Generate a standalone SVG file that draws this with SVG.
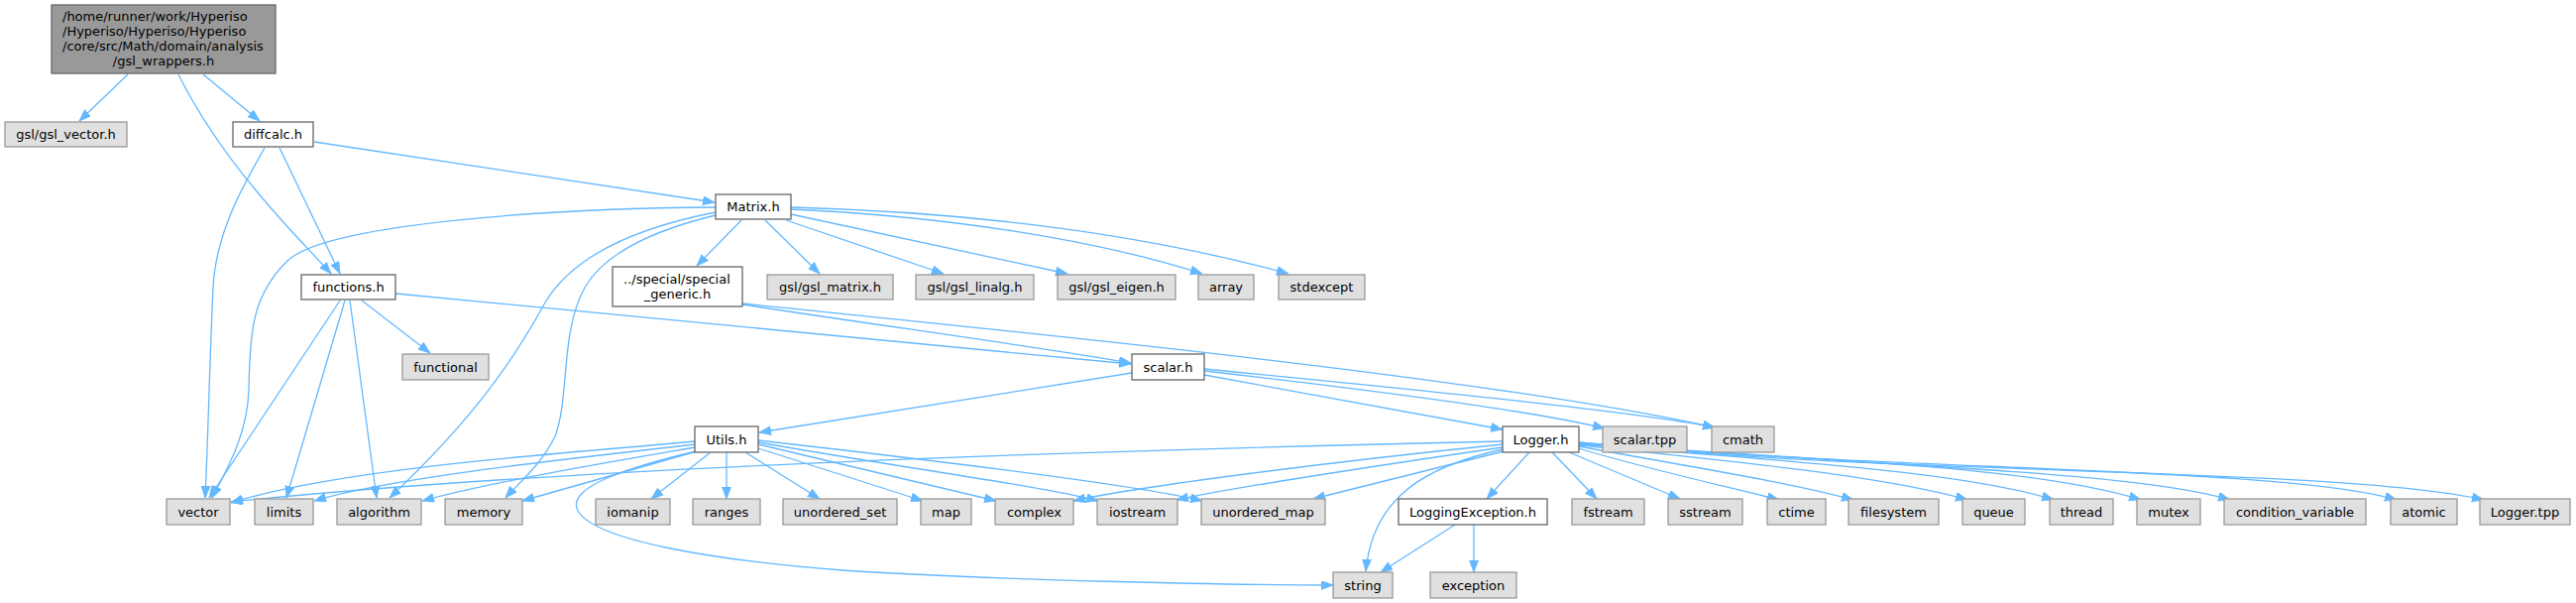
<svg xmlns="http://www.w3.org/2000/svg" width="2599" height="608" viewBox="0 0 2599 608">
<style>
.n{fill:#ffffff;stroke:#666666;stroke-width:1.3}
.g{fill:#e0e0e0;stroke:#999999;stroke-width:1.3}
.r{fill:#999999;stroke:#666666;stroke-width:1.3}
text{font-family:"DejaVu Sans","Liberation Sans",sans-serif;font-size:13px;fill:#000000;text-anchor:middle}
text.l{text-anchor:start}
.e path{fill:none;stroke:#63b8ff;stroke-width:1.3;marker-end:url(#a)}
</style>
<defs>
<marker id="a" markerUnits="userSpaceOnUse" markerWidth="13" markerHeight="10" refX="12" refY="4.5" orient="auto">
<path d="M0,0 L12,4.5 L0,9 z" fill="#63b8ff" stroke="#63b8ff" stroke-width="0.8"/>
</marker>
</defs>
<rect width="2599" height="608" fill="#ffffff"/>
<g id="edges" class="e">
<path d="M129,75 L80,122"/>
<path d="M205,75 L262,122"/>
<path d="M180,75 C205,125 235,165 265,200 C290,230 315,255 334,276"/>
<path d="M282,149 L343,276"/>
<path d="M267,149 C250,180 218,230 215,290 C212,350 210,440 207,502"/>
<path d="M317,143 L721,204"/>
<path d="M722,209 C560,210 330,225 290,263 C255,297 252,333 251,393 C250,440 225,480 214,502"/>
<path d="M722,214 C650,228 580,255 550,305 C520,360 480,420 393,502"/>
<path d="M722,217 C660,232 610,255 590,290 C565,335 575,400 560,440 C545,470 525,485 510,502"/>
<path d="M748,222 L703,268"/>
<path d="M772,222 L827,276"/>
<path d="M793,222 L952,276"/>
<path d="M798,216 L1077,276"/>
<path d="M798,211 C950,218 1100,240 1213,276"/>
<path d="M798,209 C980,214 1150,235 1300,276"/>
<path d="M365,303 L434,356"/>
<path d="M348,303 L289,502"/>
<path d="M353,303 L380,502"/>
<path d="M343,303 L211,502"/>
<path d="M399,296 L1141,367"/>
<path d="M749,307 C900,330 1050,350 1141,366"/>
<path d="M749,306 C1000,332 1500,380 1730,431"/>
<path d="M1142,376 L766,436"/>
<path d="M1215,378 L1516,433"/>
<path d="M1215,374 C1400,395 1550,415 1619,432"/>
<path d="M1215,372 C1450,395 1650,415 1730,431"/>
<path d="M701,445 C600,455 350,470 233,507"/>
<path d="M701,448 C600,460 400,480 317,505"/>
<path d="M701,451 C620,465 500,485 426,505"/>
<path d="M703,455 C650,470 580,490 527,505"/>
<path d="M717,456 L657,503"/>
<path d="M733,456 L733,503"/>
<path d="M752,456 L827,503"/>
<path d="M765,452 L931,505"/>
<path d="M765,448 L1005,505"/>
<path d="M765,446 C900,470 1050,490 1108,505"/>
<path d="M765,444 C950,465 1150,490 1213,505"/>
<path d="M702,455 C640,470 570,490 583,515 C600,545 720,565 850,575 C1000,585 1250,590 1345,590"/>
<path d="M1516,445 C1200,452 600,468 233,506"/>
<path d="M1516,448 C1350,465 1150,490 1083,505"/>
<path d="M1516,451 C1400,468 1250,490 1187,504"/>
<path d="M1517,455 L1325,503"/>
<path d="M1516,453 C1440,470 1385,500 1378,576"/>
<path d="M1543,456 L1500,503"/>
<path d="M1468,529 L1393,577"/>
<path d="M1487,529 L1487,577"/>
<path d="M1566,456 L1611,503"/>
<path d="M1583,456 L1695,503"/>
<path d="M1593,452 C1650,470 1740,490 1795,504"/>
<path d="M1593,450 C1700,470 1800,485 1870,504"/>
<path d="M1593,449 C1750,465 1900,480 1985,504"/>
<path d="M1593,448 C1800,465 1980,475 2072,504"/>
<path d="M1593,447 C1850,465 2050,470 2160,504"/>
<path d="M1593,447 C1900,470 2150,475 2250,504"/>
<path d="M1593,446 C1900,475 2300,470 2418,504"/>
<path d="M1593,446 C1900,480 2350,470 2506,504"/>
</g>
<g id="node_root"><rect class="r" x="52" y="5" width="226" height="69"/>
<text class="l" x="63" y="21">/home/runner/work/Hyperiso</text>
<text class="l" x="63" y="36">/Hyperiso/Hyperiso/Hyperiso</text>
<text class="l" x="63" y="51">/core/src/Math/domain/analysis</text>
<text x="165" y="66">/gsl_wrappers.h</text></g>
<g id="node_gsl_vector"><rect class="g" x="5" y="123" width="123" height="25"/><text x="66.5" y="140">gsl/gsl_vector.h</text></g>
<g id="node_diffcalc"><rect class="n" x="235" y="123" width="81" height="25"/><text x="275.5" y="140">diffcalc.h</text></g>
<g id="node_matrix"><rect class="n" x="722" y="196" width="76" height="25"/><text x="760" y="213">Matrix.h</text></g>
<g id="node_functions"><rect class="n" x="304" y="277" width="95" height="25"/><text x="351.5" y="294">functions.h</text></g>
<g id="node_special_generic"><rect class="n" x="618" y="269" width="131" height="40"/>
<text class="l" x="629" y="286">../special/special</text><text x="683.5" y="301">_generic.h</text></g>
<g id="node_gsl_matrix"><rect class="g" x="774" y="277" width="127" height="25"/><text x="837.5" y="294">gsl/gsl_matrix.h</text></g>
<g id="node_gsl_linalg"><rect class="g" x="924" y="277" width="119" height="25"/><text x="983.5" y="294">gsl/gsl_linalg.h</text></g>
<g id="node_gsl_eigen"><rect class="g" x="1067" y="277" width="119" height="25"/><text x="1126.5" y="294">gsl/gsl_eigen.h</text></g>
<g id="node_array"><rect class="g" x="1209" y="277" width="56" height="25"/><text x="1237" y="294">array</text></g>
<g id="node_stdexcept"><rect class="g" x="1290" y="277" width="87" height="25"/><text x="1333.5" y="294">stdexcept</text></g>
<g id="node_functional"><rect class="g" x="406" y="357" width="87" height="26"/><text x="449.5" y="375">functional</text></g>
<g id="node_scalar"><rect class="n" x="1142" y="357" width="73" height="26"/><text x="1178.5" y="375">scalar.h</text></g>
<g id="node_utils"><rect class="n" x="701" y="430" width="64" height="26"/><text x="733" y="448">Utils.h</text></g>
<g id="node_logger"><rect class="n" x="1516" y="430" width="77" height="26"/><text x="1554.5" y="448">Logger.h</text></g>
<g id="node_scalar_tpp"><rect class="g" x="1617" y="430" width="85" height="26"/><text x="1659.5" y="448">scalar.tpp</text></g>
<g id="node_cmath"><rect class="g" x="1727" y="430" width="63" height="26"/><text x="1758.5" y="448">cmath</text></g>
<g id="node_vector"><rect class="g" x="168" y="503" width="64" height="26"/><text x="200" y="521">vector</text></g>
<g id="node_limits"><rect class="g" x="257" y="503" width="59" height="26"/><text x="286.5" y="521">limits</text></g>
<g id="node_algorithm"><rect class="g" x="340" y="503" width="85" height="26"/><text x="382.5" y="521">algorithm</text></g>
<g id="node_memory"><rect class="g" x="449" y="503" width="78" height="26"/><text x="488" y="521">memory</text></g>
<g id="node_iomanip"><rect class="g" x="601" y="503" width="75" height="26"/><text x="638.5" y="521">iomanip</text></g>
<g id="node_ranges"><rect class="g" x="699" y="503" width="68" height="26"/><text x="733" y="521">ranges</text></g>
<g id="node_unordered_set"><rect class="g" x="790" y="503" width="115" height="26"/><text x="847.5" y="521">unordered_set</text></g>
<g id="node_map"><rect class="g" x="929" y="503" width="51" height="26"/><text x="954.5" y="521">map</text></g>
<g id="node_complex"><rect class="g" x="1004" y="503" width="79" height="26"/><text x="1043.5" y="521">complex</text></g>
<g id="node_iostream"><rect class="g" x="1107" y="503" width="81" height="26"/><text x="1147.5" y="521">iostream</text></g>
<g id="node_unordered_map"><rect class="g" x="1212" y="503" width="125" height="26"/><text x="1274.5" y="521">unordered_map</text></g>
<g id="node_logging_exception"><rect class="n" x="1411" y="503" width="150" height="26"/><text x="1486" y="521">LoggingException.h</text></g>
<g id="node_fstream"><rect class="g" x="1586" y="503" width="73" height="26"/><text x="1622.5" y="521">fstream</text></g>
<g id="node_sstream"><rect class="g" x="1683" y="503" width="75" height="26"/><text x="1720.5" y="521">sstream</text></g>
<g id="node_ctime"><rect class="g" x="1783" y="503" width="59" height="26"/><text x="1812.5" y="521">ctime</text></g>
<g id="node_filesystem"><rect class="g" x="1865" y="503" width="91" height="26"/><text x="1910.5" y="521">filesystem</text></g>
<g id="node_queue"><rect class="g" x="1980" y="503" width="63" height="26"/><text x="2011.5" y="521">queue</text></g>
<g id="node_thread"><rect class="g" x="2068" y="503" width="64" height="26"/><text x="2100" y="521">thread</text></g>
<g id="node_mutex"><rect class="g" x="2156" y="503" width="64" height="26"/><text x="2188" y="521">mutex</text></g>
<g id="node_condition_variable"><rect class="g" x="2244" y="503" width="143" height="26"/><text x="2315.5" y="521">condition_variable</text></g>
<g id="node_atomic"><rect class="g" x="2412" y="503" width="67" height="26"/><text x="2445.5" y="521">atomic</text></g>
<g id="node_logger_tpp"><rect class="g" x="2502" y="503" width="91" height="26"/><text x="2547.5" y="521">Logger.tpp</text></g>
<g id="node_string"><rect class="g" x="1345" y="577" width="60" height="26"/><text x="1375" y="595">string</text></g>
<g id="node_exception"><rect class="g" x="1443" y="577" width="87" height="26"/><text x="1486.5" y="595">exception</text></g>
</svg>
